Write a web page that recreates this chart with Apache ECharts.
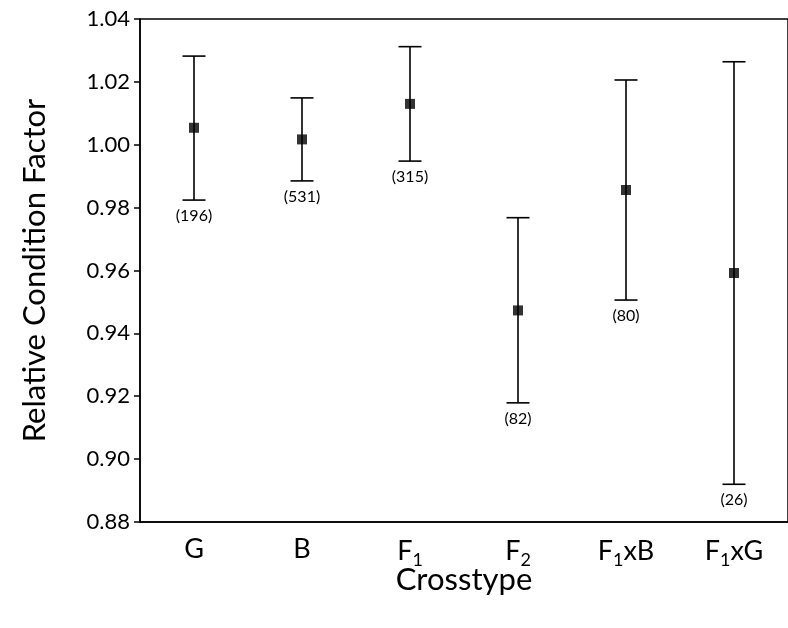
<!DOCTYPE html>
<html>
  <head>
    <meta charset="utf-8" />
    <title>Relative Condition Factor</title>
    <script src="https://cdn.jsdelivr.net/npm/echarts@6/dist/echarts.min.js"></script>
  </head>
  <body style="margin:0;background:#fff;">
    <div id="main" style="width: 788px;height:628px;"></div>
    <script type="text/javascript">
      // data
      var crosstypes = ['G', 'B', 'F1', 'F2', 'F1xB', 'F1xG'];
      var means = [1.0054, 1.0017, 1.0130, 0.9473, 0.9856, 0.9592];
      var upper = [1.0282, 1.0149, 1.0312, 0.9768, 1.0206, 1.0264];
      var lower = [0.9824, 0.9885, 0.9948, 0.9179, 0.9506, 0.8920];
      var counts = ['(196)', '(531)', '(315)', '(82)', '(80)', '(26)'];

      var font = 'Lato';
      var chartDom = document.getElementById('main');
      var myChart = echarts.init(chartDom);

      var barData = [];
      for (var i = 0; i < crosstypes.length; i++) {
        barData.push([i, lower[i], upper[i], counts[i]]);
      }

      function renderErr(params, api) {
        var x = api.value(0);
        var lo = api.coord([x, api.value(1)]);
        var hi = api.coord([x, api.value(2)]);
        var hw = 11.5;
        var st = { stroke: '#000', lineWidth: 1.6 };
        return {
          type: 'group',
          children: [
            { type: 'line', shape: { x1: lo[0], y1: lo[1], x2: hi[0], y2: hi[1] }, style: st },
            { type: 'line', shape: { x1: hi[0] - hw, y1: hi[1], x2: hi[0] + hw, y2: hi[1] }, style: st },
            { type: 'line', shape: { x1: lo[0] - hw, y1: lo[1], x2: lo[0] + hw, y2: lo[1] }, style: st },
            {
              type: 'text',
              style: {
                x: lo[0], y: lo[1] + 8,
                text: api.value(3),
                fill: '#000',
                font: '16px ' + font,
                align: 'center',
                verticalAlign: 'top'
              }
            }
          ]
        };
      }

      var option = {
        animation: false,
        backgroundColor: '#fff',
        grid: {
          left: 140, top: 19, width: 654, height: 503,
          show: true, borderColor: '#000', borderWidth: 1.5,
          backgroundColor: 'transparent'
        },
        xAxis: {
          type: 'category',
          data: crosstypes,
          boundaryGap: true,
          name: 'Crosstype',
          nameLocation: 'middle',
          nameGap: 42,
          nameMoveOverlap: false,
          nameTextStyle: { color: '#000', fontSize: 31, fontFamily: font, verticalAlign: 'top' },
          axisLine: { lineStyle: { color: '#000', width: 1.5 } },
          axisTick: { alignWithLabel: true, length: 6, lineStyle: { color: '#000', width: 1.5 } },
          axisLabel: {
            margin: 12,
            formatter: function (v) {
              return '{n|' + v.replace(/(\d)/g, '}{s|$1}{n|') + '}';
            },
            rich: {
              n: { fontSize: 27, fontFamily: font, color: '#000', lineHeight: 30 },
              s: { fontSize: 18, fontFamily: font, color: '#000', padding: [17, 0, 0, 0] }
            }
          },
          splitLine: { show: false }
        },
        yAxis: {
          type: 'value',
          min: 0.88, max: 1.04, interval: 0.02,
          name: 'Relative Condition Factor',
          nameLocation: 'middle',
          nameGap: 90,
          nameMoveOverlap: false,
          nameRotate: 90,
          nameTextStyle: { color: '#000', fontSize: 31, fontFamily: font },
          axisLine: { show: true, lineStyle: { color: '#000', width: 1.5 } },
          axisTick: { show: true, length: 6, lineStyle: { color: '#000', width: 1.5 } },
          axisLabel: {
            margin: 10,
            color: '#000', fontSize: 22, fontFamily: font,
            formatter: function (v) { return v.toFixed(2); }
          },
          splitLine: { show: false }
        },
        series: [
          {
            type: 'custom',
            renderItem: renderErr,
            encode: { x: 0, y: [1, 2] },
            data: barData,
            z: 2
          },
          {
            type: 'scatter',
            symbol: 'rect',
            symbolSize: 10,
            itemStyle: { color: '#000' },
            data: means,
            z: 3
          }
        ]
      };

      myChart.setOption(option);
    </script>
  </body>
</html>
